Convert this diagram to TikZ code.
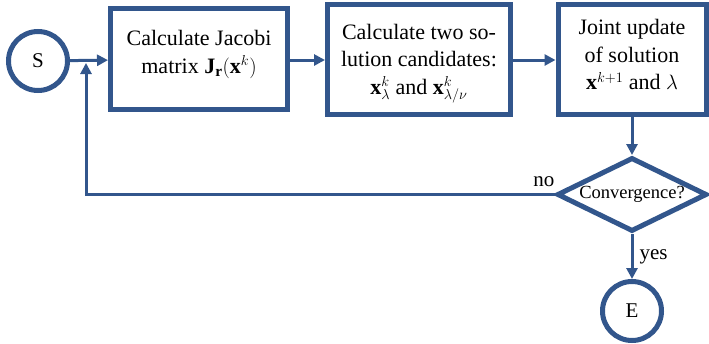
\documentclass[tikz,border=0pt]{standalone}
\usepackage{fontspec}
\setmainfont{Liberation Serif}
\usetikzlibrary{arrows.meta,shapes.geometric}
\definecolor{fb}{RGB}{50,86,140}
\tikzset{
  boxst/.style={draw=fb, line width=5pt, rectangle, inner sep=0pt},
  txtst/.style={align=center, inner sep=0pt, font=\fontsize{22}{27.5}\selectfont},
  termst/.style={draw=fb, line width=5pt, circle, inner sep=0pt, minimum size=59pt,
    font=\fontsize{21}{25}\selectfont},
  decst/.style={draw=fb, line width=5pt, diamond, inner sep=0pt, shape aspect=2,
    minimum width=150pt, minimum height=74pt, font=\fontsize{18.5}{22}\selectfont},
  arr/.style={draw=fb, line width=3pt, -{Triangle[length=11pt,width=11pt]}},
  lbl/.style={font=\fontsize{21}{25}\selectfont, inner sep=0pt}
}
\begin{document}
\begin{tikzpicture}[x=1pt,y=-1pt]
\useasboundingbox (0,0) rectangle (709,343);
\node[termst] (S) at (38,61) {S};
\node[boxst, minimum width=177pt, minimum height=101pt,
  label={[txtst, yshift=4.5pt]center:{Calculate Jacobi\\ matrix $\mathbf{J}_{\mathbf{r}}(\mathbf{x}^{k})$}}] (b1) at (199,59) {};
\node[boxst, minimum width=183pt, minimum height=110pt,
  label={[txtst, yshift=-4pt]center:{Calculate two so-\\ lution candidates:\\ $\mathbf{x}^{k}_{\lambda}$ and $\mathbf{x}^{k}_{\lambda/\nu}$}}] (b2) at (419,59.5) {};
\node[boxst, minimum width=148pt, minimum height=110pt,
  label={[txtst, yshift=5pt]center:{Joint update\\ of solution\\ $\mathbf{x}^{k+1}$ and $\lambda$}}] (b3) at (632,59.5) {};
\node[decst] (dec) at (632,194.5) {Convergence?};
\node[termst] (E) at (632,311) {E};
\coordinate (join) at (86,63);
\draw[arr] (S) -- (b1);
\draw[arr] (b1.east |- 0,60) -- (b2.west |- 0,60);
\draw[arr] (b2.east |- 0,60) -- (b3.west |- 0,60);
\draw[arr] (b3) -- (dec);
\draw[arr] (dec) -- node[lbl, right=6pt, pos=0.5] {yes} (E);
\draw[arr] (dec.west) -| (join);
\node[lbl, anchor=south east] (no) at ([xshift=0pt,yshift=8pt]dec.west) {no};
\end{tikzpicture}
\end{document}
